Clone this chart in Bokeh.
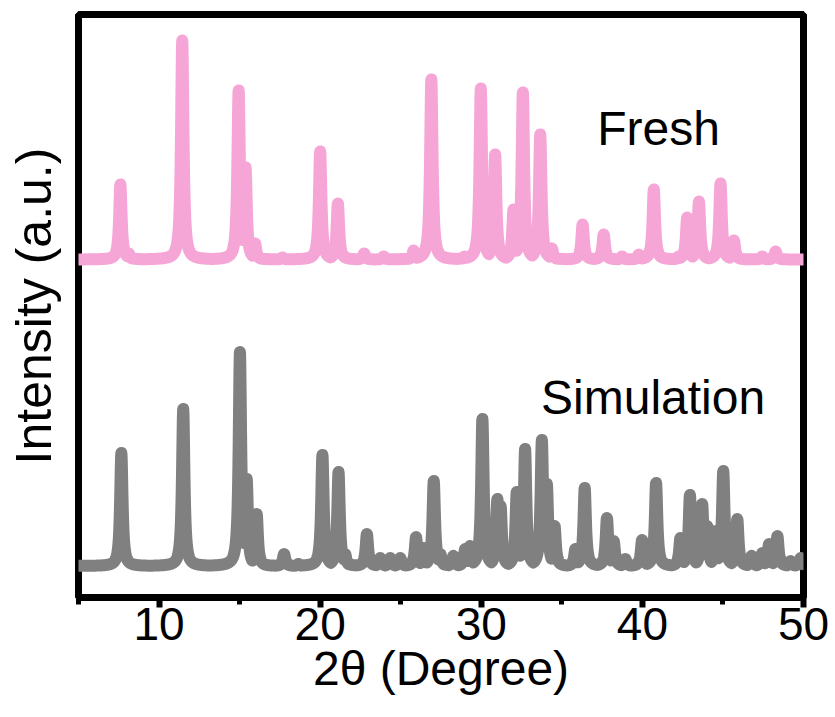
import numpy as np
from bokeh.plotting import figure
from bokeh.models import Range1d, SingleIntervalTicker, FixedTicker
from bokeh.core.properties import value
from bokeh.embed import file_html
from bokeh.resources import INLINE

# ---- data (2theta in degrees, intensity in a.u.) ----
fresh_pos = [7.60, 8.12, 11.44, 14.94, 15.37, 15.96, 17.66, 20.00, 21.10, 22.73, 23.94,
             25.80, 26.90, 28.97, 29.97, 30.86, 32.00, 32.58, 33.66, 34.38, 36.29, 37.60,
             38.74, 39.78, 40.71, 42.26, 42.78, 43.51, 44.85, 45.68, 47.44, 48.27]
fresh_int = [75, 6, 219, 169, 92, 16, 2, 108, 56, 6, 3,
             9, 180, 3, 171, 105, 50, 167, 125, 11, 35, 25,
             3, 5, 70, 3, 42, 58, 76, 19, 3, 8]

sim_pos = [7.66, 11.50, 15.02, 15.44, 16.06, 17.76, 18.65, 20.14, 21.14, 21.55, 22.90,
           23.73, 24.35, 24.97, 25.95, 26.42, 27.05, 27.46, 28.27, 29.00, 29.30, 30.07,
           31.00, 31.20, 32.20, 32.72, 33.76, 34.07, 34.55, 35.84, 36.42, 37.80, 38.22,
           38.94, 39.98, 40.85, 42.36, 42.95, 43.71, 44.02, 44.54, 45.02, 45.89, 46.78,
           47.44, 47.86, 48.38, 49.20, 49.83]
sim_int = [113, 157, 214, 87, 52, 12, 2, 111, 94, 12, 32,
           8, 8, 8, 29, 18, 85, 12, 10, 17, 20, 147,
           67, 60, 74, 117, 126, 82, 40, 17, 78, 48, 25,
           7, 26, 83, 28, 71, 62, 40, 35, 95, 47, 10,
           13, 22, 30, 5, 8]

fresh_offset = 338
sim_offset = 31.5
peak_hwhm = 0.09

series_names = ["Fresh", "Simulation"]


def pattern(pos, inten, offset):
    tt = np.arange(5.0, 50.0001, 0.01)
    y = np.zeros_like(tt)
    for p0, h in zip(pos, inten):
        y = np.maximum(y, h / (1.0 + ((tt - p0) / peak_hwhm) ** 2))
    return tt, y + offset


fx, fy = pattern(fresh_pos, fresh_int, fresh_offset)
sx, sy = pattern(sim_pos, sim_int, sim_offset)

p = figure(width=835, height=717, output_backend="svg", toolbar_location=None,
           x_range=Range1d(5, 50), y_range=Range1d(0, 583),
           min_border_left=78, min_border_right=32, min_border_top=14, min_border_bottom=120)

p.outline_line_color = "black"
p.outline_line_width = 7
p.grid.visible = False
p.background_fill_color = "white"
p.border_fill_color = "white"

p.line(fx, fy, line_color="#F5A6D6", line_width=12, line_join="round", line_cap="round")
p.line(sx, sy, line_color="#808080", line_width=12, line_join="round", line_cap="round")

p.text(x=[37.2], y=[469], text=[series_names[0]], text_font=value("Liberation Sans"),
       text_font_size="48px", text_color="black", text_baseline="alphabetic", text_align="left")
p.text(x=[33.71], y=[200], text=[series_names[1]], text_font=value("Liberation Sans"),
       text_font_size="48px", text_color="black", text_baseline="alphabetic", text_align="left")

xa = p.xaxis[0]
xa.ticker = SingleIntervalTicker(interval=10, num_minor_ticks=2)
xa.axis_line_color = None
xa.major_tick_line_color = "black"
xa.minor_tick_line_color = "black"
xa.major_tick_line_width = 6
xa.major_tick_out = 10
xa.major_tick_in = 0
xa.minor_tick_line_width = 5
xa.minor_tick_out = 7
xa.minor_tick_in = 0
xa.major_label_text_font = "Liberation Sans"
xa.major_label_text_font_size = "46px"
xa.major_label_text_color = "black"
xa.major_label_standoff = 0
xa.axis_label = "2θ (Degree)"
xa.axis_label_text_font = "Liberation Sans"
xa.axis_label_text_font_size = "48px"
xa.axis_label_text_font_style = "normal"
xa.axis_label_text_color = "black"
xa.axis_label_standoff = -1

ya = p.yaxis[0]
ya.ticker = FixedTicker(ticks=[])
ya.axis_line_color = None
ya.major_tick_line_color = None
ya.minor_tick_line_color = None
ya.axis_label = "Intensity (a.u.)"
ya.axis_label_text_font = "Liberation Sans"
ya.axis_label_text_font_size = "50px"
ya.axis_label_text_font_style = "normal"
ya.axis_label_text_color = "black"
ya.axis_label_standoff = 17

open("out.html", "w").write(file_html(p, INLINE))
